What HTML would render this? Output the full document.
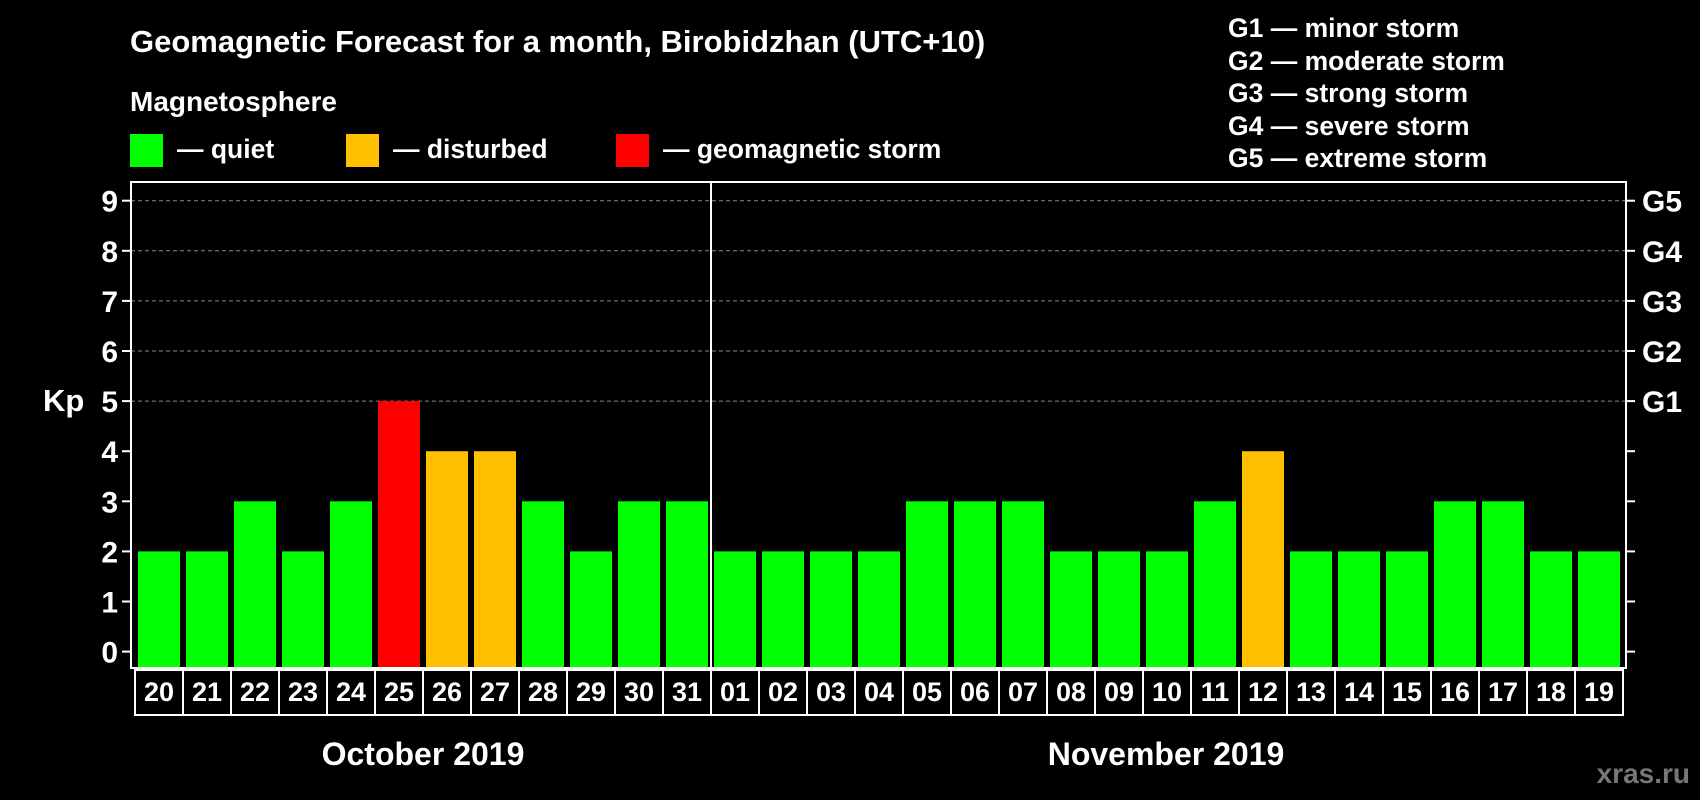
<!DOCTYPE html>
<html><head><meta charset="utf-8"><style>
body{margin:0;background:#000;}
svg{display:block;font-family:"Liberation Sans",Arial,sans-serif;font-weight:bold;}
</style></head><body>
<svg id="chart" width="1700" height="800" viewBox="0 0 1700 800" xmlns="http://www.w3.org/2000/svg">
<rect width="1700" height="800" fill="#000"/>
<text x="130" y="52" fill="#fff" font-size="31">Geomagnetic Forecast for a month, Birobidzhan (UTC+10)</text>
<text x="130" y="111" fill="#fff" font-size="28">Magnetosphere</text>
<g><rect x="130" y="134" width="33" height="33" fill="#00ff00"/><text x="177" y="158" fill="#fff" font-size="26.5">— quiet</text></g>
<g><rect x="346" y="134" width="33" height="33" fill="#ffc000"/><text x="393" y="158" fill="#fff" font-size="26.5">— disturbed</text></g>
<g><rect x="616" y="134" width="33" height="33" fill="#ff0000"/><text x="663" y="158" fill="#fff" font-size="26.5">— geomagnetic storm</text></g>
<g fill="#fff" font-size="26.5">
<text x="1228" y="37">G1 — minor storm</text>
<text x="1228" y="70">G2 — moderate storm</text>
<text x="1228" y="102">G3 — strong storm</text>
<text x="1228" y="135">G4 — severe storm</text>
<text x="1228" y="167">G5 — extreme storm</text>
</g>
<text x="43" y="411" fill="#fff" font-size="31">Kp</text>
<g id="grid"></g><g id="bars"></g><g id="axes"></g><g id="xlabels"></g>
<text x="423" y="765" fill="#fff" font-size="32" text-anchor="middle">October 2019</text>
<text x="1166" y="765" fill="#fff" font-size="32" text-anchor="middle">November 2019</text>
<text x="1690" y="783" fill="#777" font-size="28" text-anchor="end">xras.ru</text>
</svg>
<script>
const days = ["20","21","22","23","24","25","26","27","28","29","30","31","01","02","03","04","05","06","07","08","09","10","11","12","13","14","15","16","17","18","19"];
const kpValues = [2,2,3,2,3,5,4,4,3,2,3,3,2,2,2,2,3,3,3,2,2,2,3,4,2,2,2,3,3,2,2];
const yTicks = [0,1,2,3,4,5,6,7,8,9];
const gLabels = ["G1","G2","G3","G4","G5"];
const gLevels = [5,6,7,8,9];
const NS="http://www.w3.org/2000/svg";
const L=131,R=1626,T=182,B=668,slot0=134,step=48;
const y=v=>651.6-v*50.1;
const x=i=>slot0+i*step;
function mk(tag,attrs,parent){const e=document.createElementNS(NS,tag);for(const k in attrs)e.setAttribute(k,attrs[k]);parent.appendChild(e);return e;}
const grid=document.getElementById('grid'),bars=document.getElementById('bars'),axes=document.getElementById('axes'),xl=document.getElementById('xlabels');
yTicks.forEach(v=>{
  if(v>=5){const g=mk('line',{x1:L,x2:R,y1:y(v),y2:y(v),stroke:'#888','stroke-dasharray':'4 3','stroke-width':1},grid);
  
  }
  mk('line',{x1:L-9,x2:L,y1:y(v),y2:y(v),stroke:'#fff','stroke-width':2},axes);
  mk('line',{x1:R,x2:R+9,y1:y(v),y2:y(v),stroke:'#fff','stroke-width':2},axes);
  const t=mk('text',{x:L-13,y:y(v)+11,fill:'#fff','font-size':30,'text-anchor':'end'},axes);
  t.textContent=v;
  
  
});
gLevels.forEach((v,i)=>{
  const t=mk('text',{x:1642,y:y(v)+11,fill:'#fff','font-size':30},axes);
  t.textContent=gLabels[i];
  
  
});
kpValues.forEach((v,i)=>{
  const c=v>=5?'#ff0000':(v>=4?'#ffc000':'#00ff00');
  const b=mk('rect',{x:x(i)+4,y:y(v),width:42,height:B-y(v)-1,fill:c},bars);
  
  
  const box=mk('rect',{x:x(i)+1,y:670,width:step,height:45,fill:'none',stroke:'#fff','stroke-width':2},xl);
  
  
  const t=mk('text',{x:x(i)+1+step/2,y:701,fill:'#fff','font-size':27,'text-anchor':'middle'},xl);
  t.textContent=days[i];
  
  
});
const frame=mk('rect',{x:L,y:T,width:R-L,height:B-T,fill:'none',stroke:'#fff','stroke-width':2},axes);


const sep=mk('line',{x1:x(12)+1,x2:x(12)+1,y1:T,y2:B,stroke:'#fff','stroke-width':2},axes);


</script>
</body></html>
